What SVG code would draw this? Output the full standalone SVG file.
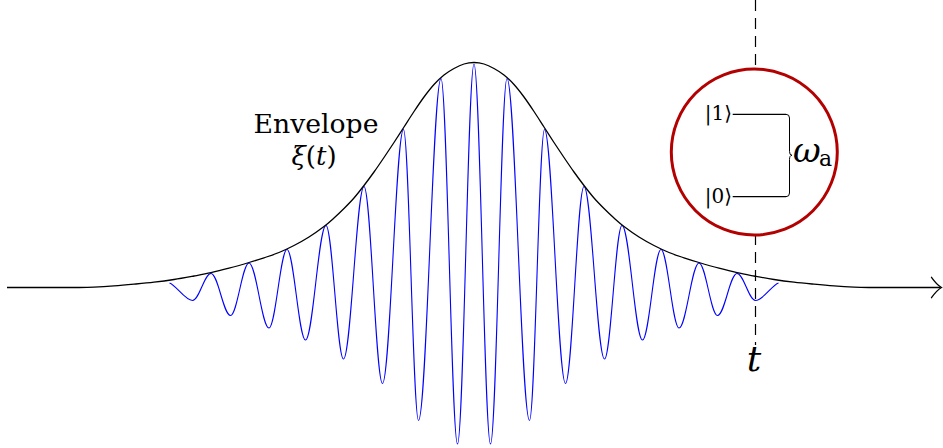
<svg xmlns="http://www.w3.org/2000/svg" width="943" height="448" viewBox="0 0 943 448">
<style>
.env{fill:none;stroke:#000;stroke-width:1.3}
.wave{fill:none;stroke:#0000ff;stroke-width:1.1}
.dash{fill:none;stroke:#000;stroke-width:1.2;stroke-dasharray:11 7}
.ln{fill:none;stroke:#000;stroke-width:1.3}
text{fill:#000;font-family:'DejaVu Serif',serif}
.it{font-style:italic}
</style>
<rect width="943" height="448" fill="#fff"/>
<g id="wave">
<path class="wave" d="M 169.5 283 C 176 285 185 300.5 192.5 300.5
C 199.23 300.5 204.27 273.5 211 273.5
C 218.1 273.5 223.4 315.5 230.5 315.5
C 237.23 315.5 242.27 263 249 263
C 256.28 263 261.72 328 269 328
C 275.55 328 280.45 249.5 287 249.5
C 293.73 249.5 298.77 340 305.5 340
C 312.96 340 318.54 225.5 326 225.5
C 332.37 225.5 337.13 359 343.5 359
C 350.96 359 356.54 186.5 364 186.5
C 370.73 186.5 375.77 383.5 382.5 383.5
C 390.14 383.5 395.86 129.5 403.5 129.5
C 408.96 129.5 413.04 420.5 418.5 420.5
C 426.69 420.5 432.81 78.5 441 78.5
C 447.01 78.5 451.49 444 457.5 444
C 463.51 444 467.99 64 474 64
C 480.01 64 484.49 444 490.5 444
C 496.51 444 500.99 78.5 507 78.5
C 515.19 78.5 521.31 420.5 529.5 420.5
C 534.96 420.5 539.04 129.5 544.5 129.5
C 552.14 129.5 557.86 383.5 565.5 383.5
C 572.23 383.5 577.27 186.5 584 186.5
C 591.46 186.5 597.04 359 604.5 359
C 610.87 359 615.63 225.5 622 225.5
C 629.46 225.5 635.04 340 642.5 340
C 649.23 340 654.27 249.5 661 249.5
C 667.55 249.5 672.45 328 679 328
C 686.28 328 691.72 263 699 263
C 705.73 263 710.77 315.5 717.5 315.5
C 724.6 315.5 729.9 273.5 737 273.5
C 743.73 273.5 748.77 300.5 755.5 300.5
C 763 300.5 772 285 778.5 283"/>
</g>
<g id="envelope">
<path class="env" d="M 7 287.5 L 79 287.5 C 84 287.43 88.17 287.37 94 287.1
S 107.33 286.38 114 285.9 S 127.33 284.82 134 284.2 S 147.33 282.98 154 282.2
S 167.33 280.53 174 279.5 S 187.83 277.13 194 276 S 205.17 274 211 272.7
S 222.67 269.9 229 268.2 S 243.17 264.23 249 262.5 S 259 259.47 264 257.8
S 274 254.55 279 252.5 S 289 248.08 294 245.5 S 304 240.17 309 237
S 319.83 229.67 324 226.5 S 330.67 221 334 218 S 340.67 211.83 344 208.5
S 350.67 201.83 354 198 S 360.67 189.83 364 185.5 S 370.67 176.67 374 172
S 380.67 162.42 384 157.5 S 390.67 147.58 394 142.5 S 400.67 132.17 404 127
S 410.67 116.5 414 111.5 S 420.67 101.5 424 97 S 430.67 88.17 434 84.5
S 440.67 77.67 444 75 S 450.67 70.33 454 68.5 S 460.67 65 464 64
S 470.67 62.5 474 62.5 S 480.67 63 484 64 S 490.67 66.67 494 68.5
S 500.67 72.33 504 75 S 510.67 80.83 514 84.5 S 520.67 92.5 524 97
S 530.67 106.5 534 111.5 S 540.67 121.83 544 127 S 550.67 137.42 554 142.5
S 560.67 152.58 564 157.5 S 570.67 167.33 574 172 S 580.67 181.17 584 185.5
S 590.67 194.17 594 198 S 600.67 205.17 604 208.5 S 610.67 215 614 218
S 619.83 223.33 624 226.5 S 634 233.83 639 237 S 649 242.92 654 245.5
S 664 250.45 669 252.5 S 679 256.13 684 257.8 S 693.17 260.77 699 262.5
S 712.67 266.5 719 268.2 S 731.17 271.4 737 272.7 S 747.83 274.87 754 276
S 767.33 278.47 774 279.5 S 787.33 281.42 794 282.2 S 807.33 283.58 814 284.2
S 827.33 285.42 834 285.9 S 848.17 286.83 854 287.1 S 864 287.43 869 287.5
L 940.5 287.5"/>
<path class="env" stroke-linecap="round" d="M 931.5 277.3 C 934.5 281.5 938.5 285.8 941.5 287.5 C 938.5 289.2 934.5 293.5 931.5 297.7"/>
</g>
<g id="time-marker">
<line class="dash" x1="755.5" y1="0" x2="755.5" y2="345"/>
<text class="it" x="754" y="371" font-size="36" text-anchor="middle">t</text>
</g>
<g id="atom">
<circle cx="754.3" cy="152" r="83" fill="#fff" stroke="#b30000" stroke-width="3"/>
<line class="ln" x1="732.7" y1="114.3" x2="786" y2="114.3"/>
<line class="ln" x1="732.7" y1="196.7" x2="786" y2="196.7"/>
<path fill="none" stroke="#000" stroke-width="1" d="M 786 114.3 Q 789.5 114.3 789.5 118 L 789.5 151.5 Q 789.5 155.3 792 155.3 Q 789.5 155.3 789.5 159.5 L 789.5 193 Q 789.5 196.7 786 196.7"/>
<text x="732" y="120" font-size="20" text-anchor="end">|1⟩</text>
<text x="732" y="202.5" font-size="20" text-anchor="end">|0⟩</text>
<text class="it" x="793" y="161.5" font-size="34">ω</text>
<text x="819" y="166" font-size="22">a</text>
</g>
<g id="envelope-label">
<text x="316" y="133" font-size="26" text-anchor="middle" textLength="125" lengthAdjust="spacingAndGlyphs">Envelope</text>
<text x="314" y="165" font-size="26" text-anchor="middle"><tspan class="it">ξ</tspan>(<tspan class="it">t</tspan>)</text>
</g>
</svg>
